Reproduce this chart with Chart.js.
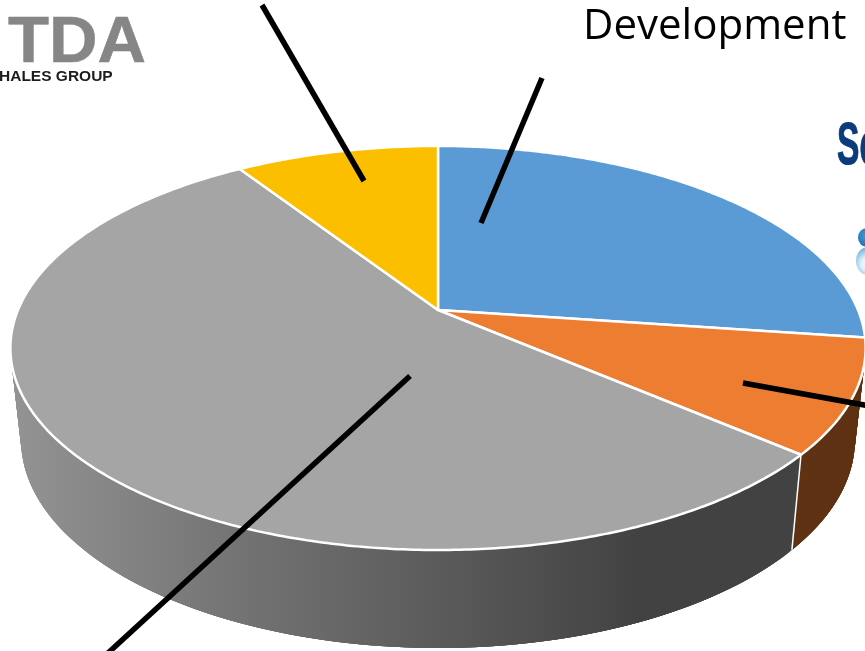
<!DOCTYPE html>
<html>
<head>
<meta charset="utf-8">
<title>Pie</title>
<script src="https://cdn.jsdelivr.net/npm/chart.js@4"></script>
<style>
html, body { margin: 0; padding: 0; background: #fff; }
#stage { position: relative; width: 865px; height: 651px; overflow: hidden; }
canvas { position: absolute; left: 0; top: 0; }
.txt { position: absolute; white-space: nowrap; line-height: 1; }
#devLabel { left: 583px; top: -6px; font: 42px "Open Sans", sans-serif; color: #000; }
#logoTda { left: 8px; top: 3px; font: bold 64px "Liberation Sans", sans-serif; color: #868686; -webkit-text-stroke: 0.5px #868686; transform: scaleX(1.05); transform-origin: left top; }
#logoGroup { left: -1px; top: 67px; font: bold 15.5px "Liberation Sans", sans-serif; color: #1c1c1c; }
#logoSc { left: 837px; top: 109px; font: bold 60px "Liberation Sans", sans-serif; color: #0c3b7c; -webkit-text-stroke: 1px #0c3b7c; transform: scaleX(0.56); transform-origin: left top; }
.drop { position: absolute; border-radius: 50%; }
#dropTop { left: 858px; top: 228px; width: 18px; height: 19px; background: radial-gradient(circle at 40% 40%, #3f9ad6, #0f5f9f); }
#dropLow { left: 856px; top: 247px; width: 24px; height: 28px; background: radial-gradient(circle at 50% 60%, #e8f4fa 30%, #59aedb 85%); }
</style>
</head>
<body>
<div id="stage">
    <canvas id="pieChart" width="865" height="651"></canvas>
    <div class="txt" id="devLabel">Development</div>
    <div class="txt" id="logoTda">TDA</div>
    <div class="txt" id="logoGroup">HALES GROUP</div>
    <div class="txt" id="logoSc">Sc</div>
    <div class="drop" id="dropTop"></div>
    <div class="drop" id="dropLow"></div>
</div>
<script>
// values (percent of the pie, clockwise from 12 o'clock)
const sliceNames = ['Development', 'Part 2', 'Part 3', 'Part 4'];
const sliceValues = [27.2, 9.1, 54.5, 9.2];
const topColors = ['#5b9bd5', '#ed7d31', '#a5a5a5', '#fcbf00'];
const wallColors = ['#355d80', '#5f3213', null, '#977300'];

// Perspective of the tilted disc
const cx = 438, cy = 310;
function project(a) {
    const u = Math.cos(a), v = Math.sin(a);
    const w = 1 - 0.188 * v;
    return { x: cx + 420 * u / w, y: cy + 194.9 * v / w };
}
// Same point on the underside of the disc
function lower(p) {
    return { x: cx + (p.x - cx) * 0.975, y: p.y * 1.03 + 81.5 };
}
function arcPoints(start, end) {
    const n = Math.max(2, Math.ceil((end - start) / 0.01));
    const pts = [];
    for (let i = 0; i <= n; i++) {
        pts.push(project(start + (end - start) * i / n));
    }
    return pts;
}

function drawPie(chart) {
    const ctx = chart.ctx;
    const arcs = chart.getDatasetMeta(0).data;

    // Side wall first
    const wallGrad = ctx.createLinearGradient(15, 0, 640, 0);
    wallGrad.addColorStop(0, '#939393');
    wallGrad.addColorStop(0.35, '#747474');
    wallGrad.addColorStop(1, '#424242');

    arcs.forEach((arc, i) => {
        const rim = arcPoints(arc.startAngle, arc.endAngle);
        ctx.fillStyle = wallColors[i] || wallGrad;
        // overlapping quads, a single polygon cancels itself where the strip folds
        for (let k = 0; k < rim.length - 1; k++) {
            const a = rim[k], b = rim[Math.min(k + 4, rim.length - 1)], c = lower(b), d = lower(a);
            ctx.beginPath();
            ctx.moveTo(a.x, a.y);
            ctx.lineTo(b.x, b.y);
            ctx.lineTo(c.x, c.y);
            ctx.lineTo(d.x, d.y);
            ctx.closePath();
            ctx.fill();
        }
    });

    // White seam on the wall where two slices meet
    arcs.forEach(arc => {
        const p = project(arc.startAngle);
        if (Math.sin(arc.startAngle) > 0.3) {
            const q = lower(p);
            ctx.beginPath();
            ctx.moveTo(p.x, p.y);
            ctx.lineTo(q.x, q.y);
            ctx.strokeStyle = '#fff';
            ctx.lineWidth = 1.5;
            ctx.stroke();
        }
    });

    // Top face
    arcs.forEach((arc, i) => {
        const rim = arcPoints(arc.startAngle, arc.endAngle);
        ctx.beginPath();
        ctx.moveTo(cx, cy);
        rim.forEach(p => ctx.lineTo(p.x, p.y));
        ctx.closePath();
        ctx.fillStyle = topColors[i];
        ctx.fill();
        ctx.strokeStyle = '#fff';
        ctx.lineWidth = 2.5;
        ctx.lineJoin = 'round';
        ctx.stroke();
    });
}

// Pointer lines from the labels to the slices
function drawPointers(ctx) {
    const pointers = [
        [262, 5, 364, 181],
        [542, 78, 481, 223],
        [743, 383, 870, 406],
        [410, 376, 108, 653]
    ];
    ctx.strokeStyle = '#000';
    ctx.lineWidth = 5.5;
    ctx.lineCap = 'butt';
    pointers.forEach(l => {
        ctx.beginPath();
        ctx.moveTo(l[0], l[1]);
        ctx.lineTo(l[2], l[3]);
        ctx.stroke();
    });
}

const tiltedPie = {
    id: 'tiltedPie',
    beforeDatasetsDraw(chart) {
        drawPie(chart);
        drawPointers(chart.ctx);
        return false;
    }
};

new Chart(document.getElementById('pieChart'), {
    type: 'pie',
    data: {
        labels: sliceNames,
        datasets: [{ data: sliceValues, backgroundColor: topColors }]
    },
    options: {
        responsive: false,
        animation: false,
        events: [],
        plugins: { legend: { display: false }, tooltip: { enabled: false } }
    },
    plugins: [tiltedPie]
});
</script>
</body>
</html>
